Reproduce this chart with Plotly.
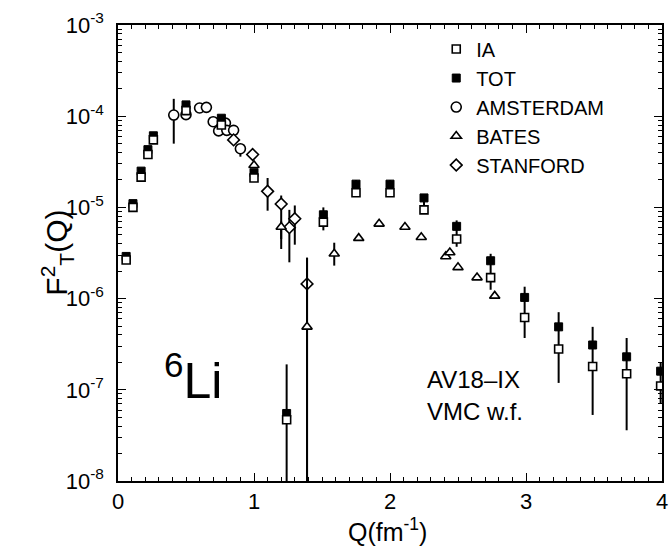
import plotly.graph_objects as go

# ---- data ----
Q_model = [0.06, 0.11, 0.17, 0.22, 0.26, 0.50, 0.76, 1.00, 1.24, 1.51,
           1.75, 2.00, 2.25, 2.49, 2.74, 2.99, 3.24, 3.49, 3.74, 3.99]
IA = [2.65e-6, 1.0e-5, 2.15e-5, 3.8e-5, 5.5e-5, 1.15e-4, 8.0e-5, 2.1e-5, 4.7e-8, 6.9e-6,
      1.45e-5, 1.45e-5, 9.4e-6, 4.5e-6, 1.7e-6, 6.2e-7, 2.8e-7, 1.8e-7, 1.5e-7, 1.1e-7]
TOT = [2.9e-6, 1.1e-5, 2.5e-5, 4.3e-5, 6.1e-5, 1.33e-4, 9.5e-5, 2.4e-5, 5.5e-8, 8.3e-6,
       1.8e-5, 1.8e-5, 1.27e-5, 6.2e-6, 2.6e-6, 1.03e-6, 4.9e-7, 3.1e-7, 2.3e-7, 1.6e-7]
TOT_top = [3.2e-6, 1.2e-5, 2.7e-5, 4.6e-5, 6.5e-5, 1.45e-4, 1.0e-4, 2.6e-5, 1.9e-7, 1.0e-5,
           2.0e-5, 2.0e-5, 1.4e-5, 7.2e-6, 3.1e-6, 1.35e-6, 7.1e-7, 4.9e-7, 3.7e-7, 2.0e-7]
TOT_bot = [2.4e-6, 9.5e-6, 2.0e-5, 3.6e-5, 5.3e-5, 1.1e-4, 7.5e-5, 2.0e-5, 1.0e-9, 5.6e-6,
           1.3e-5, 1.3e-5, 8.5e-6, 3.7e-6, 1.25e-6, 3.7e-7, 1.19e-7, 5.3e-8, 3.6e-8, 7.0e-8]

Q_ams = [0.41, 0.50, 0.60, 0.65, 0.70, 0.74, 0.79, 0.80, 0.85, 0.90]
F_ams = [1.03e-4, 1.04e-4, 1.23e-4, 1.25e-4, 8.7e-5, 6.9e-5, 8.4e-5, 7.0e-5, 7.0e-5, 4.4e-5]
ams_top = [1.55e-4, 1.15e-4, 1.38e-4, 1.40e-4, 9.5e-5, 7.6e-5, 9.2e-5, 7.7e-5, 7.7e-5, 4.8e-5]
ams_bot = [5.0e-5, 9.4e-5, 1.1e-4, 1.12e-4, 8.0e-5, 6.3e-5, 7.7e-5, 6.4e-5, 6.3e-5, 3.6e-5]

Q_bat = [1.00, 1.20, 1.39, 1.59, 1.77, 1.92, 2.11, 2.23, 2.41, 2.44, 2.50, 2.64, 2.77]
F_bat = [2.9e-5, 6.1e-6, 4.9e-7, 3.1e-6, 4.6e-6, 6.6e-6, 6.1e-6, 4.7e-6, 2.9e-6, 3.2e-6,
         2.2e-6, 1.7e-6, 1.07e-6]
bat_top = [3.1e-5, 7.0e-6, 2.8e-6, 4.1e-6, 4.8e-6, 6.9e-6, 6.4e-6, 4.9e-6, 3.0e-6, 3.4e-6,
           2.3e-6, 1.8e-6, 1.12e-6]
bat_bot = [2.7e-5, 4.5e-6, 1.0e-9, 2.3e-6, 4.4e-6, 6.3e-6, 5.8e-6, 4.5e-6, 2.8e-6, 3.0e-6,
           2.1e-6, 1.6e-6, 1.02e-6]

Q_stf = [0.85, 0.99, 1.10, 1.20, 1.26, 1.30, 1.39]
F_stf = [5.5e-5, 3.8e-5, 1.5e-5, 1.09e-5, 6.0e-6, 7.5e-6, 1.45e-6]
stf_top = [6.0e-5, 4.2e-5, 2.1e-5, 1.35e-5, 9.4e-6, 1.05e-5, 2.8e-6]
stf_bot = [5.0e-5, 3.4e-5, 9.2e-6, 3.5e-6, 2.5e-6, 3.9e-6, 1.0e-9]

y_tickvals = [1e-8, 1e-7, 1e-6, 1e-5, 1e-4, 1e-3]
y_ticktext = ["10<sup>-8</sup>", "10<sup>-7</sup>", "10<sup>-6</sup>",
              "10<sup>-5</sup>", "10<sup>-4</sup>", "10<sup>-3</sup>"]
x_tickvals = [0, 1, 2, 3, 4]

FONT = "Liberation Sans, Arial, Helvetica, sans-serif"


def ebar(vals, top, bot):
    p = [t - v for v, t in zip(vals, top)]
    m = [v - b for v, b in zip(vals, bot)]
    return dict(type="data", symmetric=False, array=p, arrayminus=m,
                color="black", thickness=2, width=0)


fig = go.Figure()

fig.add_trace(go.Scatter(
    x=Q_ams, y=F_ams, mode="markers", name="AMSTERDAM", legendrank=3,
    error_y=ebar(F_ams, ams_top, ams_bot),
    marker=dict(symbol="circle", size=10, color="white", line=dict(color="black", width=1.6))))
fig.add_trace(go.Scatter(
    x=Q_stf, y=F_stf, mode="markers", name="STANFORD", legendrank=5,
    error_y=ebar(F_stf, stf_top, stf_bot),
    marker=dict(symbol="diamond", size=9, color="white", line=dict(color="black", width=1.6))))
fig.add_trace(go.Scatter(
    x=Q_bat, y=F_bat, mode="markers", name="BATES", legendrank=4,
    error_y=ebar(F_bat, bat_top, bat_bot),
    marker=dict(symbol="triangle-up", size=9, color="white", line=dict(color="black", width=1.6))))
fig.add_trace(go.Scatter(
    x=Q_model, y=TOT, mode="markers", name="TOT", legendrank=2,
    error_y=ebar(TOT, TOT_top, TOT_bot),
    marker=dict(symbol="square", size=8, color="black", line=dict(color="black", width=1))))
fig.add_trace(go.Scatter(
    x=Q_model, y=IA, mode="markers", name="IA", legendrank=1,
    marker=dict(symbol="square", size=8, color="white", line=dict(color="black", width=1.6))))

axis_common = dict(showline=True, linecolor="black", linewidth=1.5, mirror="allticks",
                   ticks="inside", tickcolor="black", tickwidth=1.2, showgrid=False,
                   zeroline=False, tickfont=dict(family=FONT, size=22, color="black"))

fig.update_xaxes(range=[0, 4], tickmode="array", tickvals=x_tickvals, ticklen=8,
                 ticklabeloverflow="allow",
                 minor=dict(ticks="inside", dtick=0.1, ticklen=4, tickcolor="black", showgrid=False),
                 **axis_common)
fig.update_yaxes(type="log", range=[-8, -3], tickmode="array", tickvals=y_tickvals,
                 ticktext=y_ticktext, ticklen=8, ticklabelstandoff=8,
                 minor=dict(ticks="inside", dtick="D1", ticklen=4, tickcolor="black", showgrid=False),
                 **axis_common)

fig.add_annotation(text="F<sup>2</sup><sub>T</sub>(Q)", xref="paper", yref="paper",
                   x=-0.155, y=0.50, textangle=-90, showarrow=False,
                   font=dict(family=FONT, size=30, color="black"))
fig.add_annotation(text="Q(fm<sup>-1</sup>)", xref="paper", yref="paper",
                   x=0.495, y=-0.108, showarrow=False, yanchor="middle",
                   font=dict(family=FONT, size=25, color="black"))
fig.add_annotation(text="<sup>6</sup>Li", x=0.55, y=-6.86, xref="x", yref="y",
                   showarrow=False, font=dict(family=FONT, size=50, color="black"))
fig.add_annotation(text="AV18–IX", x=2.26, y=-6.89, xref="x", yref="y", xanchor="left",
                   showarrow=False, font=dict(family=FONT, size=24, color="black"))
fig.add_annotation(text="VMC w.f.", x=2.26, y=-7.24, xref="x", yref="y", xanchor="left",
                   showarrow=False, font=dict(family=FONT, size=24, color="black"))

fig.update_layout(
    width=671, height=546,
    margin=dict(l=118, r=3, t=25, b=65),
    paper_bgcolor="white", plot_bgcolor="white",
    showlegend=True,
    legend=dict(x=0.585, y=0.99, xanchor="left", yanchor="top", bgcolor="rgba(0,0,0,0)",
                font=dict(family=FONT, size=20, color="black"), tracegroupgap=0,
                itemsizing="trace"),
)

fig.write_html("out.html")
